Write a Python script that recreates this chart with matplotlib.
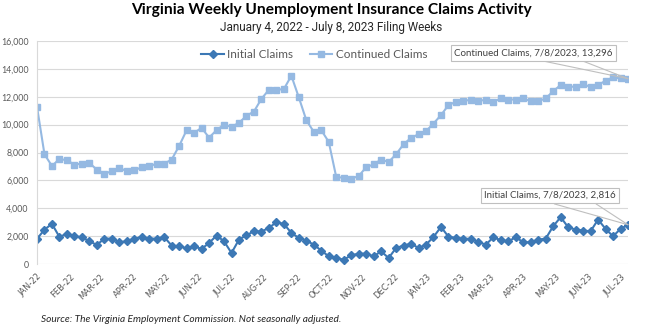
# Virginia - demandes hebdomadaires d'assurance chomage
# Courbes des demandes initiales et continues, janv. 2022 - juil. 2023

import matplotlib
matplotlib.use("Agg")
import matplotlib.pyplot as plt
import pandas as pd

# Semaines de depot (80 semaines)
semaines = pd.date_range("2022-01-01", "2023-07-08", freq="7D")

initial = [1800, 2470, 2880, 1940, 2180, 1990, 1920, 1630, 1370, 1820,
           1820, 1560, 1630, 1820, 1940, 1820, 1820, 1940, 1320, 1270,
           1130, 1270, 1080, 1510, 2040, 1630, 790, 1750, 2060, 2350,
           2330, 2590, 3000, 2880, 2230, 1870, 1680, 1390, 960, 550,
           430, 310, 620, 740, 740, 550, 910, 430, 1150, 1320,
           1460, 1150, 1390, 1940, 2660, 1960, 1870, 1820, 1800, 1580,
           1390, 1920, 1700, 1630, 1920, 1560, 1560, 1750, 1820, 2710,
           3360, 2640, 2470, 2400, 2350, 3190, 2520, 1990, 2520, 2816]

continued = [11280, 7870, 7030, 7540, 7440, 7130, 7200, 7250, 6770, 6480,
             6650, 6910, 6650, 6720, 6940, 7010, 7200, 7200, 7490, 8470,
             9600, 9410, 9770, 9070, 9600, 10000, 9840, 10130, 10630, 10940,
             11850, 12500, 12500, 12550, 13510, 11950, 10320, 9480, 9600, 8760,
             6240, 6190, 6120, 6310, 6940, 7150, 7490, 7320, 7870, 8590,
             9050, 9310, 9530, 10080, 10680, 11400, 11640, 11680, 11800, 11680,
             11800, 11640, 11880, 11800, 11800, 11880, 11680, 11680, 11880, 12400,
             12840, 12720, 12720, 12880, 12720, 12840, 13150, 13390, 13310, 13296]

mois = pd.date_range("2022-01-01", "2023-07-01", freq="MS")
etiquettes_mois = [m.strftime("%b-%y").upper() for m in mois]

gris = "#595959"
bleu_fonce = "#3c78b5"
bleu_clair = "#95b9e2"

fig = plt.figure(figsize=(6.62, 3.27), dpi=100)
ax = fig.add_axes([37 / 662, 1 - 264 / 327, (628 - 37) / 662, (264 - 41) / 327])

ax.plot(semaines, initial, color=bleu_fonce, marker="D", markersize=4.2,
        linewidth=1.5, label="Initial Claims")
ax.plot(semaines, continued, color=bleu_clair, marker="s", markersize=4.8,
        linewidth=1.5, label="Continued Claims")

ax.set_xlim(semaines[0], semaines[-1])
ax.set_ylim(0, 16000)
ax.set_yticks(range(0, 16001, 2000))
ax.yaxis.set_major_formatter(matplotlib.ticker.FuncFormatter(lambda v, p: f"{int(v):,}"))
ax.set_xticks(mois)
ax.set_xticklabels(etiquettes_mois, rotation=45, ha="right", va="top",
                   rotation_mode="anchor", fontsize=6, family="DejaVu Sans", color=gris)
for lab in ax.get_yticklabels():
    lab.set_fontsize(6.3)
    lab.set_family("Lato")
    lab.set_color(gris)
ax.tick_params(axis="both", length=0)
ax.tick_params(axis="y", pad=6)
ax.tick_params(axis="x", pad=6)

ax.grid(axis="y", color="#d9d9d9", linewidth=0.8)
ax.set_axisbelow(True)
for s in ["top", "right", "bottom"]:
    ax.spines[s].set_visible(False)
ax.spines["left"].set_color("#d9d9d9")
ax.spines["left"].set_linewidth(0.8)

# Legende
leg = fig.legend(loc="center", bbox_to_anchor=(0.475, 0.832), ncol=2, frameon=False,
                 prop={"family": "Lato", "size": 8.5}, handlelength=1.9,
                 columnspacing=1.4, handletextpad=0.3)
for t in leg.get_texts():
    t.set_color(gris)

# Etiquettes de la derniere semaine
def etiquette(serie, nom, decalage, attaches):
    x, y = semaines[-1], serie[-1]
    texte = f"{nom}, {x.month}/{x.day}/{x.year}, {y:,}"
    for dx in attaches:
        ax.annotate("", xy=(x, y), xytext=(dx, decalage[1] - 6), textcoords="offset points",
                    arrowprops=dict(arrowstyle="-", color="#bfbfbf", lw=0.8,
                                    shrinkA=0, shrinkB=0))
    ax.annotate(texte, xy=(x, y), xytext=decalage, textcoords="offset points",
                ha="center", va="center", fontsize=7, family="Lato", color="#404040",
                bbox=dict(boxstyle="square,pad=0.35", fc="white", ec="#bfbfbf", lw=0.8),
                annotation_clip=False)

etiquette(continued, "Continued Claims", (-68, 18.5), [-60, -32])
etiquette(initial, "Initial Claims", (-56, 21), [-53, -23])

fig.text(0.5, 0.968, "Virginia Weekly Unemployment Insurance Claims Activity",
         ha="center", va="center", fontsize=11.2, fontweight="bold", family="Lato")
fig.text(0.5, 0.917, "January 4, 2022 - July 8, 2023 Filing Weeks",
         ha="center", va="center", fontsize=8.5, family=["Liberation Sans Narrow", "Roboto"],
         color="#262626")
fig.text(41 / 662, 0.024, "Source: The Virginia Employment Commission. Not seasonally adjusted.",
         ha="left", va="center", fontsize=7.3, style="italic", family="Lato", color="#262626")

fig.savefig("out.png", dpi=100)
